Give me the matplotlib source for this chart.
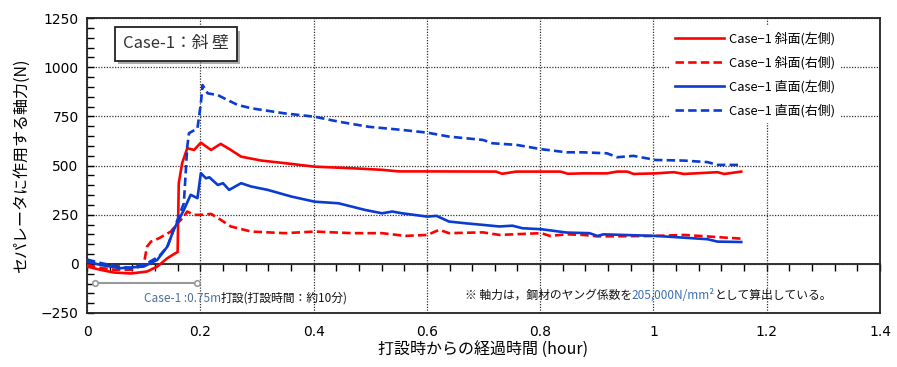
import matplotlib
matplotlib.use("Agg")
import matplotlib.pyplot as plt
import matplotlib.patheffects as pe
import numpy as np

plt.rcParams['font.family'] = ['Noto Sans CJK JP', 'DejaVu Sans']

# ---- data ----
x_slope_left = [0, 0.023, 0.047, 0.078, 0.106, 0.124, 0.142, 0.156, 0.160, 0.162, 0.168, 0.177, 0.189, 0.201,
                0.219, 0.236, 0.254, 0.272, 0.308, 0.349, 0.402, 0.468, 0.521, 0.55, 0.601, 0.722, 0.733,
                0.758, 0.836, 0.849, 0.876, 0.918, 0.936, 0.954, 0.965, 1.004, 1.036, 1.054, 1.113, 1.125, 1.155]
y_slope_left = [-14, -30, -44, -49, -39, -14, 29, 54, 60, 410, 512, 588, 579, 616,
                579, 610, 579, 545, 525, 512, 494, 486, 478, 470, 470, 469, 458,
                469, 469, 458, 460, 460, 469, 469, 457, 460, 466, 457, 466, 457, 469]

x_slope_right = [0, 0.023, 0.047, 0.078, 0.1, 0.106, 0.113, 0.127, 0.148, 0.160, 0.171, 0.177, 0.189, 0.201,
                 0.219, 0.236, 0.254, 0.290, 0.349, 0.402, 0.468, 0.521, 0.562, 0.601, 0.622, 0.639, 0.699,
                 0.728, 0.802, 0.817, 0.847, 0.876, 0.900, 0.936, 1.004, 1.054, 1.113, 1.155]
y_slope_right = [-5, -20, -30, -30, -5, 88, 113, 130, 164, 207, 240, 266, 249, 249,
                 254, 224, 190, 164, 156, 164, 156, 156, 142, 147, 173, 156, 160,
                 147, 156, 142, 150, 147, 140, 140, 142, 147, 136, 128]

x_vert_left = [0, 0.023, 0.059, 0.1, 0.124, 0.142, 0.153, 0.171, 0.183, 0.195, 0.201, 0.210, 0.216, 0.231,
               0.240, 0.251, 0.272, 0.290, 0.319, 0.361, 0.402, 0.444, 0.491, 0.521, 0.539, 0.556, 0.601,
               0.617, 0.639, 0.669, 0.699, 0.728, 0.751, 0.769, 0.802, 0.847, 0.887, 0.901, 0.912, 1.004,
               1.054, 1.096, 1.113, 1.155]
y_vert_left = [12, -5, -22, -14, 20, 88, 173, 274, 351, 334, 461, 435, 440, 401,
               410, 376, 410, 393, 376, 342, 316, 308, 274, 257, 266, 257, 240,
               244, 215, 206, 198, 190, 194, 181, 176, 159, 156, 142, 150, 142,
               133, 125, 113, 111]

x_vert_right = [0, 0.023, 0.047, 0.078, 0.106, 0.127, 0.142, 0.153, 0.171, 0.177, 0.180, 0.195, 0.201, 0.204,
                0.213, 0.231, 0.248, 0.266, 0.290, 0.349, 0.402, 0.444, 0.497, 0.556, 0.601, 0.639, 0.699,
                0.716, 0.758, 0.802, 0.847, 0.876, 0.918, 0.936, 0.965, 1.004, 1.054, 1.096, 1.113, 1.155]
y_vert_right = [22, 5, -10, -22, 3, 37, 88, 173, 308, 596, 664, 689, 816, 909,
                867, 858, 833, 808, 791, 765, 748, 723, 697, 681, 667, 647, 630,
                613, 605, 583, 567, 567, 562, 542, 549, 528, 525, 517, 503, 503]

labels = ['Case−1 斜面(左側)', 'Case−1 斜面(右側)', 'Case−1 直面(左側)', 'Case−1 直面(右側)']
x_ticks = [0, 0.2, 0.4, 0.6, 0.8, 1, 1.2, 1.4]
x_ticklabels = ['0', '0.2', '0.4', '0.6', '0.8', '1', '1.2', '1.4']
y_ticks = [-250, 0, 250, 500, 750, 1000, 1250]

RED = '#FF0000'
BLUE = '#0A3CD2'

fig = plt.figure(figsize=(8.97, 3.67), dpi=100)
ax = fig.add_axes([87/897, 1-313/367, (880-87)/897, (313-18)/367])

lw = 1.9
dash = (3.2, 1.6)
ax.plot(x_slope_left, y_slope_left, color=RED, lw=lw, label=labels[0], zorder=4)
ax.plot(x_slope_right, y_slope_right, color=RED, lw=lw, dashes=dash, label=labels[1], zorder=4)
ax.plot(x_vert_left, y_vert_left, color=BLUE, lw=lw, label=labels[2], zorder=4)
ax.plot(x_vert_right, y_vert_right, color=BLUE, lw=lw, dashes=dash, label=labels[3], zorder=4)

ax.set_xlim(0, 1.4)
ax.set_ylim(-250, 1250)
ax.set_xticks(x_ticks)
ax.set_xticklabels(x_ticklabels)
ax.set_yticks(y_ticks)
ax.set_yticks(np.arange(-250, 1251, 50), minor=True)
ax.tick_params(axis='x', which='both', length=0, pad=9, labelsize=10)
ax.tick_params(axis='y', which='both', direction='in', length=5, width=1.0, pad=6, labelsize=10)
for t in ax.get_xticklabels() + ax.get_yticklabels():
    t.set_family(['Liberation Sans Narrow', 'DejaVu Sans'])

ax.grid(True, which='major', linestyle=(0, (1, 1.2)), color='#333333', lw=0.9)
for s in ax.spines.values():
    s.set_linewidth(1.3)
    s.set_color('#222222')

# zero line with minor ticks
sec = ax.secondary_xaxis(250/1500)
sec.set_xticks(np.arange(0, 1.41, 0.04))
sec.tick_params(axis='x', direction='out', length=5, width=1.0, labelbottom=False, labeltop=False)
sec.spines['bottom'].set_linewidth(1.3)
sec.spines['bottom'].set_color('#222222')
sec.set_xticklabels([])

ax.set_ylabel('セパレータに作用する軸力(N)', fontsize=11.5, labelpad=8)
ax.set_xlabel('打設時からの経過時間 (hour)', fontsize=11.5, labelpad=2)

# title box with shadow
tt = ax.text(0.112, 0.912, 'Case-1：斜 壁', transform=ax.transAxes, fontsize=12, color='#333333',
             ha='center', va='center',
             bbox=dict(boxstyle='square,pad=0.5', fc='white', ec='#222222', lw=1.3), zorder=6)
tt.get_bbox_patch().set_path_effects([pe.SimplePatchShadow(offset=(2.5, -2.5), shadow_rgbFace='#888888', alpha=0.7),
                                      pe.Normal()])

# casting period annotation
ax.plot([0.014, 0.195], [-95, -95], color='#999999', lw=1.5, marker='o', ms=4,
        mfc='white', mec='#999999', mew=1.2, zorder=5)
t1 = ax.text(0.10, -175, 'Case-1 :0.75m', fontsize=8.5, color='#4d7099', ha='left', va='center')
ax.annotate('打設(打設時間：約10分)', xy=(1, 0.5), xycoords=t1, fontsize=8.5, color='#111111',
            ha='left', va='center')

# note
n1 = ax.text(0.667, -160, '※ 軸力は，鋼材のヤング係数を', fontsize=8.5, color='#111111', ha='left', va='center')
n2 = ax.annotate('205,000N/mm²', xy=(1, 0.5), xycoords=n1, fontsize=8.5, color='#3a6fb0',
                 ha='left', va='center')
ax.annotate('として算出している。', xy=(1, 0.5), xycoords=n2, fontsize=8.5, color='#111111',
            ha='left', va='center')

leg = ax.legend(loc='upper left', bbox_to_anchor=(0.735, 0.972), frameon=True, fontsize=9.3,
                handlelength=3.8, handletextpad=0.4, labelspacing=0.82, borderpad=0.4,
                borderaxespad=0)
leg.get_frame().set_edgecolor('none')
leg.get_frame().set_facecolor('white')
leg.get_frame().set_alpha(1)
leg.set_zorder(7)

fig.savefig('out.png', dpi=100)
